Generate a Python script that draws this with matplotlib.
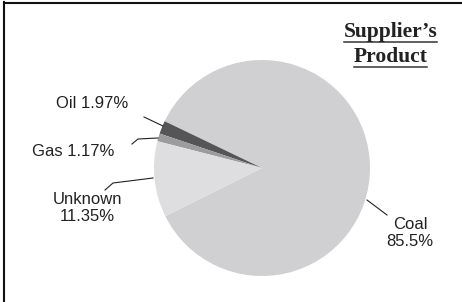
import matplotlib
matplotlib.use("Agg")
import matplotlib.pyplot as plt
from matplotlib.lines import Line2D

categories = ["Coal", "Oil", "Gas", "Unknown"]
values = [85.5, 1.97, 1.17, 11.35]
labels = ["Coal\n85.5%", "Oil 1.97%", "Gas 1.17%", "Unknown\n11.35%"]
colors = ["#d0d0d2", "#555557", "#9c9c9e", "#dedee0"]
title_lines = ["Supplier\u2019s", "Product"]

W, H = 462, 302
fig = plt.figure(figsize=(W / 100, H / 100), dpi=100)
ax = fig.add_axes([0, 0, 1, 1])

cx, cy, r = 262, H - 168, 108
ax.pie(values, colors=colors, startangle=206.5, counterclock=True,
       center=(cx, cy), radius=r, frame=True,
       wedgeprops=dict(linewidth=0))
ax.set_xlim(0, W)
ax.set_ylim(0, H)
ax.set_aspect("equal")
ax.axis("off")

fam = ["Liberation Sans Narrow", "Liberation Sans", "DejaVu Sans"]
fs = 12

def Y(y):
    return H - y

tc = "#222222"
ax.text(92, Y(104), labels[1], ha="center", va="center", fontsize=fs, family=fam, color=tc)
ax.text(73, Y(152), labels[2], ha="center", va="center", fontsize=fs, family=fam, color=tc)
ax.text(87, Y(208), labels[3], ha="center", va="center", fontsize=fs, family=fam, color=tc,
        linespacing=1.1)
ax.text(410, Y(233), labels[0], ha="center", va="center", fontsize=fs, family=fam, color=tc,
        linespacing=1.1)

# leader lines
lk = dict(color="#222222", lw=0.8)
ax.plot([144, 163], [Y(117), Y(126)], **lk)
ax.plot([132, 138, 158], [Y(144), Y(139), Y(138)], **lk)
ax.plot([105, 113, 153], [Y(190), Y(183), Y(178)], **lk)
ax.plot([367, 387], [Y(200), Y(215)], **lk)

# title with underlines
fig.canvas.draw()
rend = fig.canvas.get_renderer()
for txt, yc, yu in [(title_lines[0], 32, 41.5), (title_lines[1], 56.5, 66.5)]:
    t = ax.text(390.5, Y(yc), txt, ha="center", va="center", fontsize=15.5,
                family=["Liberation Serif", "DejaVu Serif"], fontweight="bold", color=tc)
    bb = t.get_window_extent(renderer=rend)
    ax.plot([bb.x0, bb.x1], [Y(yu), Y(yu)], color="#333333", lw=1.1)

# frame
fig.add_artist(Line2D([3.5 / W, 3.5 / W], [0, 1 - 2 / H], transform=fig.transFigure, color="#111111", lw=1.5))
fig.add_artist(Line2D([3.5 / W, 1], [1 - 2.5 / H, 1 - 2.5 / H], transform=fig.transFigure, color="#111111", lw=1.5))

fig.savefig("out.png", dpi=100)
